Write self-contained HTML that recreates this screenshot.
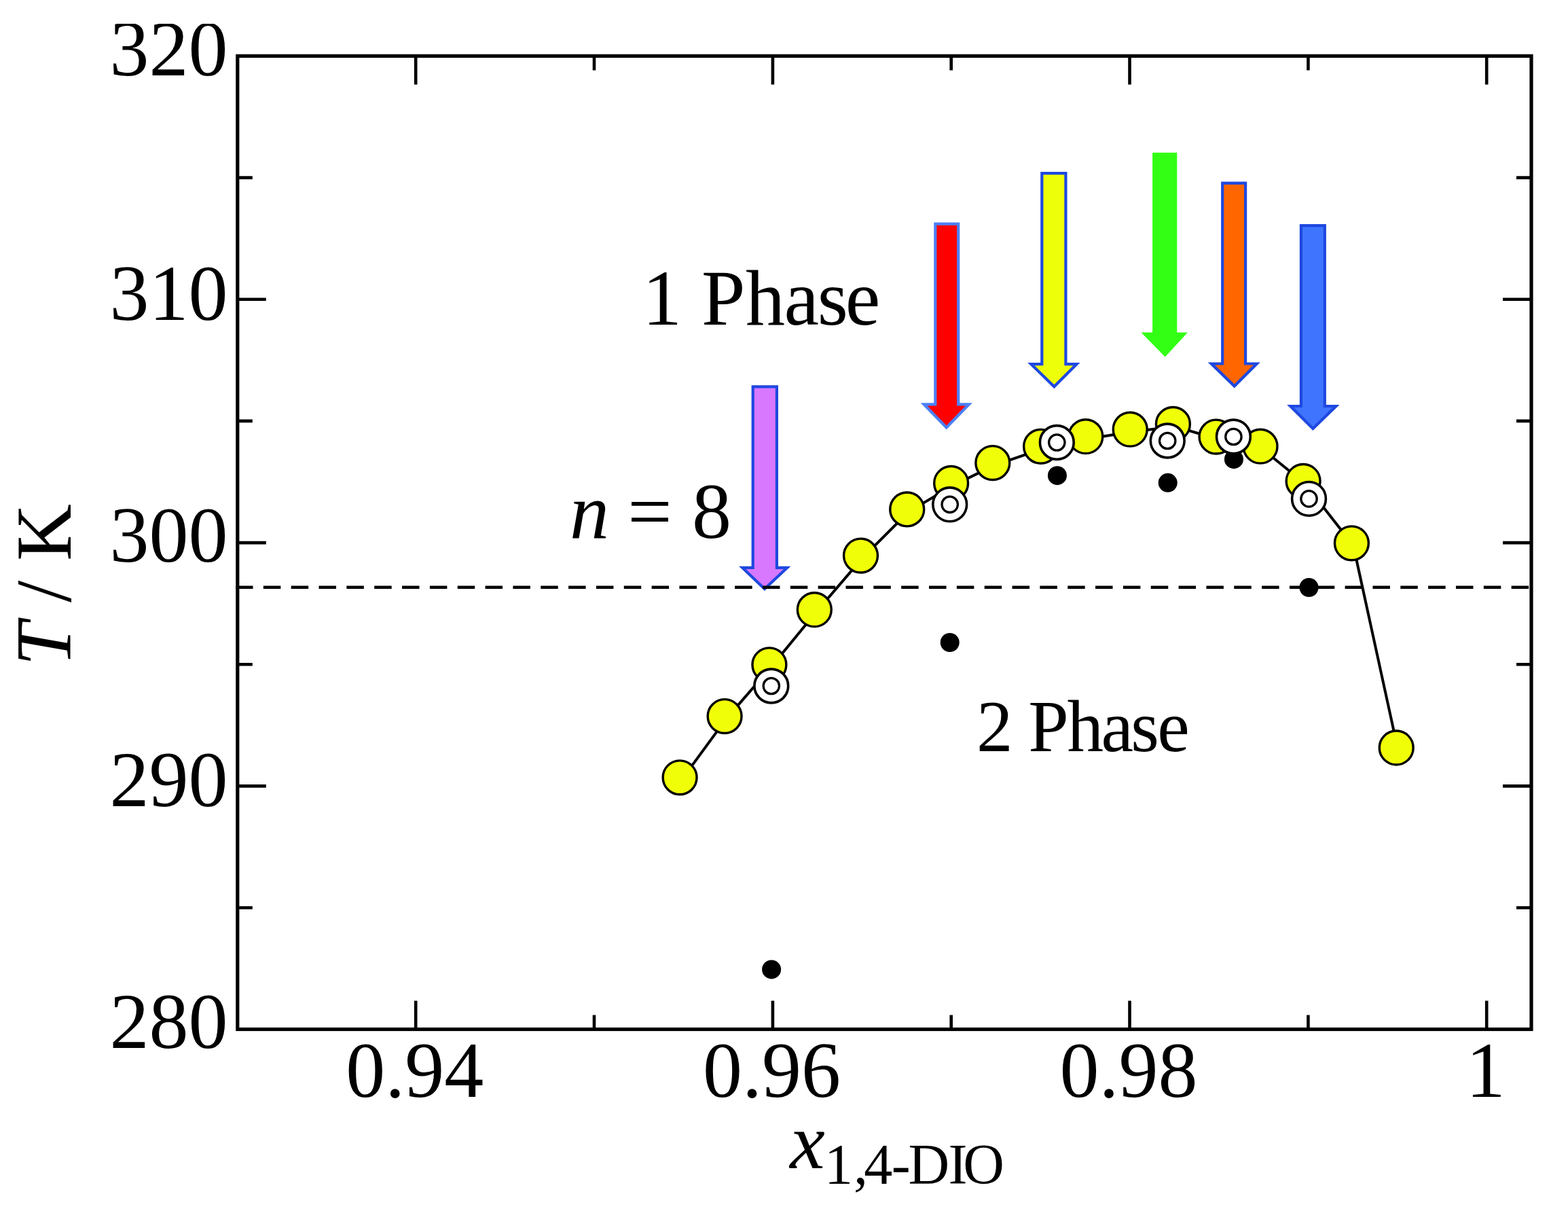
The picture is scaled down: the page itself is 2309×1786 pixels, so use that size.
<!DOCTYPE html>
<html><head><meta charset="utf-8"><title>Phase diagram</title>
<style>html,body{margin:0;padding:0;background:#fff;}svg{display:block;}</style>
</head><body>
<svg width="2309" height="1786" viewBox="0 0 2309 1786">
<rect x="0" y="0" width="2309" height="1786" fill="#fff"/>
<polyline points="1003.6,1148.3 1069.6,1058.1 1135.4,982.3 1201.8,901.2 1270.0,821.6 1338.2,753.4 1403.1,715.0 1464.3,685.1 1535.1,660.8 1601.3,646.2 1666.7,635.7 1729.9,627.9 1793.5,646.6 1858.5,660.7 1921.6,712.0 1992.9,803.3 2058.7,1104.5" fill="none" stroke="#000" stroke-width="4.0" stroke-linejoin="round"/>
<polygon points="1106.6,567.2 1146.0,567.2 1146.0,833.8 1164.5,833.8 1125.9,870.0 1088.0,833.8 1106.6,833.8" fill="#1e48e0"/>
<polygon points="1110.8,571.4 1141.8,571.4 1141.8,838.0 1153.9,838.0 1125.9,864.2 1098.5,838.0 1110.8,838.0" fill="#d778ff"/>
<polygon points="1375.2,327.6 1413.3,327.6 1413.3,593.3 1431.8,593.3 1393.7,632.4 1355.6,593.3 1375.2,593.3" fill="#4b80f7"/>
<polygon points="1379.4,331.8 1409.1,331.8 1409.1,597.5 1421.8,597.5 1393.7,626.4 1365.6,597.5 1379.4,597.5" fill="#ff0000"/>
<polygon points="1532.2,253.1 1571.5,253.1 1571.5,534.0 1590.6,534.0 1552.3,572.2 1513.1,534.0 1532.2,534.0" fill="#1e48e0"/>
<polygon points="1536.4,257.3 1567.3,257.3 1567.3,538.2 1580.4,538.2 1552.3,566.3 1523.4,538.2 1536.4,538.2" fill="#eeff0a"/>
<polygon points="1697.1,224.7 1733.3,224.7 1733.3,489.5 1748.9,489.5 1715.7,525.6 1680.5,489.5 1697.1,489.5" fill="#32ff14"/>
<polygon points="1798.1,267.6 1836.2,267.6 1836.2,533.4 1855.8,533.4 1817.7,571.5 1778.6,533.4 1798.1,533.4" fill="#1e48e0"/>
<polygon points="1802.3,271.8 1832.0,271.8 1832.0,537.6 1845.7,537.6 1817.7,565.6 1788.9,537.6 1802.3,537.6" fill="#ff6600"/>
<polygon points="1913.8,330.1 1952.9,330.1 1952.9,595.9 1972.6,595.9 1933.4,634.1 1895.1,595.9 1913.8,595.9" fill="#1e48e0"/>
<polygon points="1918.0,334.3 1948.7,334.3 1948.7,600.1 1962.3,600.1 1933.4,628.2 1905.3,600.1 1918.0,600.1" fill="#3f74ff"/>
<line x1="347" y1="864.8" x2="2255.0" y2="864.8" stroke="#000" stroke-width="4.6" stroke-dasharray="25.5 15.34"/>
<circle cx="1001.1" cy="1144.8" r="24.95" fill="#f0ff08" stroke="#000" stroke-width="3.4"/>
<circle cx="1067.1" cy="1054.6" r="24.95" fill="#f0ff08" stroke="#000" stroke-width="3.4"/>
<circle cx="1132.9" cy="978.8" r="24.95" fill="#f0ff08" stroke="#000" stroke-width="3.4"/>
<circle cx="1199.3" cy="897.7" r="24.95" fill="#f0ff08" stroke="#000" stroke-width="3.4"/>
<circle cx="1267.5" cy="818.1" r="24.95" fill="#f0ff08" stroke="#000" stroke-width="3.4"/>
<circle cx="1335.7" cy="749.9" r="24.95" fill="#f0ff08" stroke="#000" stroke-width="3.4"/>
<circle cx="1400.6" cy="711.5" r="24.95" fill="#f0ff08" stroke="#000" stroke-width="3.4"/>
<circle cx="1461.8" cy="681.6" r="24.95" fill="#f0ff08" stroke="#000" stroke-width="3.4"/>
<circle cx="1532.6" cy="657.3" r="24.95" fill="#f0ff08" stroke="#000" stroke-width="3.4"/>
<circle cx="1598.8" cy="642.7" r="24.95" fill="#f0ff08" stroke="#000" stroke-width="3.4"/>
<circle cx="1664.2" cy="632.2" r="24.95" fill="#f0ff08" stroke="#000" stroke-width="3.4"/>
<circle cx="1727.4" cy="624.4" r="24.95" fill="#f0ff08" stroke="#000" stroke-width="3.4"/>
<circle cx="1791.0" cy="643.1" r="24.95" fill="#f0ff08" stroke="#000" stroke-width="3.4"/>
<circle cx="1856.0" cy="657.2" r="24.95" fill="#f0ff08" stroke="#000" stroke-width="3.4"/>
<circle cx="1919.1" cy="708.5" r="24.95" fill="#f0ff08" stroke="#000" stroke-width="3.4"/>
<circle cx="1990.4" cy="799.8" r="24.95" fill="#f0ff08" stroke="#000" stroke-width="3.4"/>
<circle cx="2056.2" cy="1101.0" r="24.95" fill="#f0ff08" stroke="#000" stroke-width="3.4"/>
<circle cx="1136.1" cy="1427.4" r="14" fill="#000"/>
<circle cx="1398.7" cy="946.0" r="14" fill="#000"/>
<circle cx="1556.9" cy="700.2" r="14" fill="#000"/>
<circle cx="1719.7" cy="710.8" r="14" fill="#000"/>
<circle cx="1816.9" cy="676.2" r="14" fill="#000"/>
<circle cx="1927.5" cy="865.0" r="14" fill="#000"/>
<circle cx="1135.8" cy="1010.0" r="24.9" fill="#fff" stroke="#000" stroke-width="3.6"/>
<circle cx="1135.8" cy="1010.0" r="11.7" fill="none" stroke="#000" stroke-width="3.3"/>
<circle cx="1398.7" cy="742.8" r="24.9" fill="#fff" stroke="#000" stroke-width="3.6"/>
<circle cx="1398.7" cy="742.8" r="11.7" fill="none" stroke="#000" stroke-width="3.3"/>
<circle cx="1556.3" cy="651.5" r="24.9" fill="#fff" stroke="#000" stroke-width="3.6"/>
<circle cx="1556.3" cy="651.5" r="11.7" fill="none" stroke="#000" stroke-width="3.3"/>
<circle cx="1719.2" cy="649.0" r="24.9" fill="#fff" stroke="#000" stroke-width="3.6"/>
<circle cx="1719.2" cy="649.0" r="11.7" fill="none" stroke="#000" stroke-width="3.3"/>
<circle cx="1816.4" cy="643.0" r="24.9" fill="#fff" stroke="#000" stroke-width="3.6"/>
<circle cx="1816.4" cy="643.0" r="11.7" fill="none" stroke="#000" stroke-width="3.3"/>
<circle cx="1927.5" cy="734.4" r="24.9" fill="#fff" stroke="#000" stroke-width="3.6"/>
<circle cx="1927.5" cy="734.4" r="11.7" fill="none" stroke="#000" stroke-width="3.3"/>
<rect x="349.8" y="82.5" width="1905.2" height="1433.0" fill="none" stroke="#000" stroke-width="5.2"/>
<path d="M612.2,1515.5V1473.5M612.2,82.5V124.5M875.0,1515.5V1494.5M875.0,82.5V103.5M1137.9,1515.5V1473.5M1137.9,82.5V124.5M1400.7,1515.5V1494.5M1400.7,82.5V103.5M1663.5,1515.5V1473.5M1663.5,82.5V124.5M1926.4,1515.5V1494.5M1926.4,82.5V103.5M2189.2,1515.5V1473.5M2189.2,82.5V124.5M349.8,1336.5H371.8M2255.0,1336.5H2233.0M349.8,1157.4H391.8M2255.0,1157.4H2213.0M349.8,978.2H371.8M2255.0,978.2H2233.0M349.8,799.1H391.8M2255.0,799.1H2213.0M349.8,619.9H371.8M2255.0,619.9H2233.0M349.8,440.8H391.8M2255.0,440.8H2213.0M349.8,261.6H371.8M2255.0,261.6H2233.0" stroke="#000" stroke-width="4.6" fill="none"/>
<g font-family="Liberation Serif, serif" font-size="116" fill="#000">
<text x="335.5" y="111.0" text-anchor="end">320</text>
<text x="335.5" y="471.3" text-anchor="end">310</text>
<text x="335.5" y="827.4" text-anchor="end">300</text>
<text x="335.5" y="1186.6" text-anchor="end">290</text>
<text x="335.5" y="1542.5" text-anchor="end">280</text>
<text x="610.7" y="1615" text-anchor="middle">0.94</text>
<text x="1136.4" y="1615" text-anchor="middle">0.96</text>
<text x="1662.0" y="1615" text-anchor="middle">0.98</text>
<text x="2187.7" y="1615" text-anchor="middle">1</text>
</g>
<rect x="0" y="0" width="346.8" height="35" fill="#fff"/>
<g font-family="Liberation Serif, serif" fill="#000">
<text x="946 975 1032.9 1098.05 1154.45 1203.65 1244.65" y="478.3" font-size="116">1 Phase</text>
<text x="1438 1491.5 1514.15 1571.5 1621.45 1665.3 1704.15" y="1105.6" font-size="107">2 Phase</text>
<text y="792.3" font-size="116"><tspan x="838.95" font-style="italic">n</tspan><tspan x="924.15">=</tspan><tspan x="1019.1">8</tspan></text>
<text y="1720" font-size="116"><tspan x="1163.2" font-style="italic">x</tspan><tspan font-size="84" y="1743" x="1214 1257 1272.3 1312.7 1337.5 1396.4 1418.35">1,4-DIO</tspan></text>
<text transform="translate(104 980.5) rotate(-90)" font-size="116"><tspan font-style="italic">T</tspan> / K</text>
</g>
</svg>
</body></html>
